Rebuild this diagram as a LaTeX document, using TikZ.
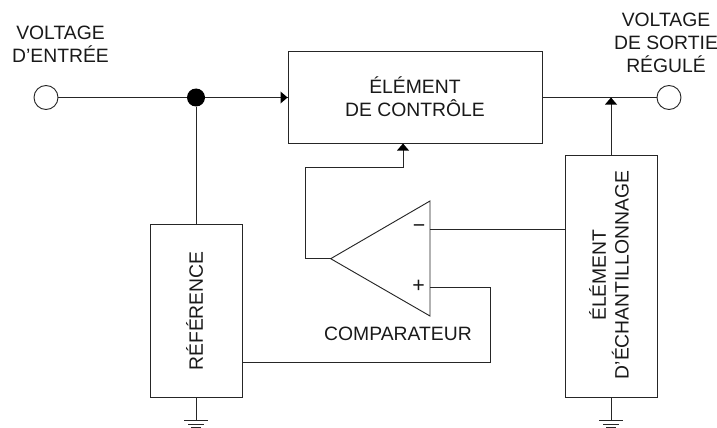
\documentclass[tikz,border=0pt]{standalone}
\usepackage{fontspec}
\setmainfont{Liberation Sans}
\begin{document}
\begin{tikzpicture}[x=0.75pt,y=-0.75pt,
  wire/.style={line width=0.7pt,black!85},
  box/.style={draw=black!85,line width=0.65pt,fill=white,inner sep=0pt},
  lbl/.style={font=\fontsize{14.5}{17}\selectfont,align=center,inner sep=0pt,text=black!90},
  term/.style={circle,draw=black!85,line width=0.7pt,fill=white,minimum size=24*0.75pt,inner sep=0pt},
  tipr/.style={fill=black,draw=none},
  gnd/.style={line width=0.75pt,black!85}]
\useasboundingbox (0,0) rectangle (717,428);
\node[box,minimum width=254*0.75pt,minimum height=92*0.75pt] (ctrl) at (415,97.5) {};
\node[lbl] (ctrltxt) at (415,97) {ÉLÉMENT\\DE CONTRÔLE};
\node[box,minimum width=92*0.75pt,minimum height=173*0.75pt] (ref) at (196,310.5) {};
\node[lbl,rotate=90] (reftxt) at (194.5,311) {RÉFÉRENCE};
\node[box,minimum width=92*0.75pt,minimum height=242*0.75pt] (samp) at (611,276) {};
\node[lbl,rotate=90] (samptxt) at (609,275) {ÉLÉMENT\\D\symbol{39}ÉCHANTILLONNAGE};
\node[term] (in) at (46,97.5) {};
\node[term] (out) at (669,97.5) {};
\node[circle,fill=black,minimum size=18*0.75pt,inner sep=0pt] (dot) at (196,97.5) {};
\node[lbl] (intxt) at (60.5,44) {VOLTAGE\\D\symbol{39}ENTRÉE};
\node[lbl] (outtxt) at (666,43) {VOLTAGE\\DE SORTIE\\RÉGULÉ};
\node[lbl] (cmp) at (398,334) {COMPARATEUR};
\coordinate (apex) at (330.7,258.7);
\coordinate (tt) at (430,201);
\coordinate (tb) at (430,316);
\coordinate (minus) at (430,229.7);
\coordinate (plus) at (430,287.3);
\draw[wire] (apex) -- (tt) -- (tb) -- cycle;
\node[lbl] (m) at (419,228.5) {\fontsize{16}{16}\selectfont −};
\node[lbl] (p) at (418.5,286.5) {\fontsize{16}{16}\selectfont +};
\draw[wire] (in) -- (dot);
\draw[wire] (dot) -- (ctrl.west);
\draw[wire] (dot) -- (ref.north);
\draw[wire] (ctrl.east) -- (out);
\draw[wire] (samp.north) -- (611,98);
\draw[wire] (apex) -- (305.5,258.7) -- (305.5,167) -- (403,167) -- (403,144);
\draw[wire] (minus) -- (minus -| samp.west);
\draw[wire] (plus) -- (490,287.3) -- (490,362.3) -- (ref.east |- 0,362.3);
\fill[tipr] (ctrl.west) -- ++(-7,-6) -- ++(0,12) -- cycle;
\fill[tipr] (611,97.5) -- ++(-6,7) -- ++(12,0) -- cycle;
\fill[tipr] (403,143.5) -- ++(-6,7) -- ++(12,0) -- cycle;
\foreach \n/\x in {r/196,s/611}{
  \draw[gnd] (\x,397) -- (\x,420);
  \draw[gnd] (\x-12,420) -- (\x+12,420);
  \draw[gnd] (\x-8,424) -- (\x+8,424);
  \draw[gnd] (\x-5,427.3) -- (\x+5,427.3);
}
\end{tikzpicture}
\end{document}
